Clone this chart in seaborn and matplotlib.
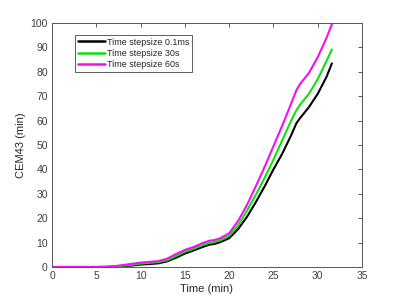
import matplotlib
matplotlib.use("Agg")
import matplotlib.pyplot as plt
import pandas as pd
import seaborn as sns

sns.set_style("white")
plt.rcParams['font.family'] = ['Liberation Sans', 'DejaVu Sans']

time_min = [0, 5, 6, 7, 8, 9, 10, 11, 12, 13, 14, 15, 16, 17, 17.8, 18.3, 19, 20,
            21, 22, 23, 24, 25, 26, 27, 27.6, 28, 29, 30, 31, 31.6]
cem_01ms = [0, 0, 0, 0.1, 0.3, 0.6, 1.0, 1.2, 1.5, 2.3, 3.8, 5.5, 6.8, 8.2, 9.2, 9.4, 10.2, 11.8,
            15.5, 20.5, 26.5, 33, 40, 46.5, 54, 59, 61, 65.5, 71, 78, 83.5]
cem_30s = [0, 0, 0.05, 0.2, 0.5, 0.9, 1.4, 1.7, 2.0, 2.8, 4.5, 6.3, 7.5, 9.0, 10.0, 10.2, 11.0, 12.8,
           17, 23, 29.5, 36.5, 44, 52, 60, 64.3, 66.5, 71, 77, 84.5, 89.2]
cem_60s = [0, 0, 0.1, 0.3, 0.8, 1.3, 1.8, 2.1, 2.4, 3.4, 5.3, 7.0, 8.2, 9.8, 10.8, 11.0, 11.8, 13.8,
           18.8, 25.3, 33, 41, 49.5, 58, 67, 72.5, 75, 79.5, 86, 94, 99.5]
labels = ["Time stepsize 0.1ms", "Time stepsize 30s", "Time stepsize 60s"]

df = pd.concat([
    pd.DataFrame({"time": time_min, "cem": vals, "series": lab})
    for vals, lab in zip([cem_01ms, cem_30s, cem_60s], labels)
])

fig = plt.figure(figsize=(4, 3), dpi=100)
ax = fig.add_axes([0.13, 0.11, 0.775, 0.813])

sns.lineplot(data=df, x="time", y="cem", hue="series", hue_order=labels,
             palette=["black", "#10e010", "#f010f0"], linewidth=1.5, ax=ax)

ax.set_xlim(0, 35)
ax.set_ylim(0, 100)
ax.set_xticks(range(0, 36, 5))
ax.set_yticks(range(0, 101, 10))
ax.set_xlabel("Time (min)", fontsize=8, color="#262626", labelpad=2)
ax.set_ylabel("CEM43 (min)", fontsize=8, color="#262626", labelpad=3)
ax.tick_params(direction="in", length=3, width=0.6, labelsize=7.5, colors="#404040",
               top=True, right=True, labeltop=False, labelright=False, pad=3)
for s in ax.spines.values():
    s.set_color("#555555")
    s.set_linewidth(0.7)

leg = ax.legend(loc="upper left", bbox_to_anchor=(0.074, 0.952), fontsize=6.5,
                frameon=True, fancybox=False, borderpad=0.3, handlelength=3.0,
                handletextpad=0.2, labelspacing=0.25, borderaxespad=0)
leg.get_frame().set_edgecolor("#333333")
leg.get_frame().set_linewidth(0.7)
for line in leg.get_lines():
    line.set_linewidth(1.8)

fig.savefig("out.png", dpi=100)
